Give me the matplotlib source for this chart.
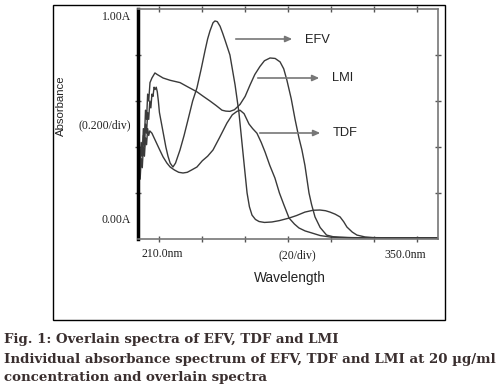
import matplotlib
matplotlib.use("Agg")
import matplotlib.pyplot as plt
from matplotlib.patches import Rectangle

# ---------------- data ----------------
efv_wl = [210, 210.5, 211, 211.5, 212, 212.5, 213, 213.5, 214, 214.5, 215, 215.5, 216, 216.5,
          217, 217.5, 218, 218.5, 219, 219.5, 220, 221, 222, 223, 224, 225, 226.3, 227.5, 229.6,
          231.5, 233.3, 235.5, 237.5, 239.5, 241.3, 242.5, 243.6, 245, 245.9, 247, 248.3, 249.5,
          250.6, 252.9, 255.3, 257.1, 258.5, 259.8, 260.9, 262, 263.2, 264.8, 266.5, 269, 272.5,
          276, 280.5, 284, 287.9, 291.7, 294.9, 297.5, 299.6, 302, 304.3, 306, 307.5, 310, 312.2,
          315.9, 320, 330, 340, 350]
efv_abs = [0.30, 0.38, 0.34, 0.42, 0.37, 0.45, 0.40, 0.50, 0.46, 0.55, 0.52, 0.60, 0.57, 0.63,
           0.62, 0.66, 0.65, 0.66, 0.64, 0.60, 0.55, 0.50, 0.45, 0.40, 0.36, 0.33, 0.313, 0.33, 0.387,
           0.45, 0.517, 0.60, 0.657, 0.74, 0.82, 0.87, 0.905, 0.94, 0.948, 0.945, 0.925, 0.895,
           0.865, 0.80, 0.67, 0.55, 0.42, 0.30, 0.20, 0.14, 0.104, 0.085, 0.076, 0.072, 0.074,
           0.08, 0.091, 0.102, 0.117, 0.125, 0.126, 0.123, 0.117, 0.108, 0.096, 0.075, 0.052, 0.03,
           0.017, 0.009, 0.006, 0.005, 0.005, 0.005]

tdf_wl = [210, 210.5, 211, 211.5, 212, 212.5, 213, 213.5, 214, 214.5, 215, 215.5, 216.5, 218,
          220, 221.7, 223.5, 225, 227, 229, 231, 233, 235, 237.5, 240, 242.5, 245, 248, 251.5,
          254, 256.2, 257.6, 259.5, 261.8, 263.5, 265.5, 267.5, 269.3, 271.5, 273.9, 276, 278.1,
          280.5, 283, 285.1, 288, 291.2, 295, 300, 310, 330, 350]
tdf_abs = [0.22, 0.30, 0.26, 0.35, 0.31, 0.40, 0.36, 0.44, 0.41, 0.48, 0.45, 0.47, 0.46, 0.43,
           0.39, 0.357, 0.33, 0.313, 0.30, 0.29, 0.287, 0.29, 0.30, 0.313, 0.34, 0.36, 0.387, 0.44,
           0.504, 0.54, 0.555, 0.56, 0.545, 0.50, 0.48, 0.46, 0.42, 0.378, 0.32, 0.265, 0.20, 0.148,
           0.091, 0.065, 0.048, 0.035, 0.026, 0.015, 0.008, 0.005, 0.004, 0.004]

lmi_wl = [210, 210.5, 211, 211.5, 212, 212.5, 213, 213.5, 214, 214.5, 215, 215.6, 216.5, 217.9,
          219, 221.7, 225, 229.6, 233.5, 237.5, 240.5, 243.6, 246.5, 249.2, 251, 252.9, 255, 257.6,
          260, 262.3, 264.5, 266.9, 269, 271.6, 274, 276.3, 278, 279.5, 281.5, 283.3, 285.1, 286.5,
          287.9, 289.8, 291, 292.6, 295, 298, 301, 304, 310, 320, 335, 350]
lmi_abs = [0.25, 0.33, 0.29, 0.40, 0.36, 0.48, 0.44, 0.56, 0.52, 0.63, 0.60, 0.68, 0.70, 0.722,
           0.715, 0.70, 0.69, 0.68, 0.66, 0.64, 0.62, 0.60, 0.58, 0.56, 0.556, 0.555, 0.562, 0.585,
           0.62, 0.67, 0.715, 0.75, 0.775, 0.787, 0.785, 0.77, 0.74, 0.69, 0.61, 0.52, 0.44, 0.387,
           0.32, 0.20, 0.15, 0.096, 0.05, 0.017, 0.01, 0.008, 0.006, 0.005, 0.005, 0.005]

x_ticks = [220, 240, 260, 280, 300, 320, 340]
y_ticks = [0.2, 0.4, 0.6, 0.8]
labels = ["EFV", "LMI", "TDF"]
caption_lines = ["Fig. 1: Overlain spectra of EFV, TDF and LMI",
                 "Individual absorbance spectrum of EFV, TDF and LMI at 20 \u00b5g/ml",
                 "concentration and overlain spectra"]

# ---------------- figure ----------------
W, H = 500, 389
fig = plt.figure(figsize=(W / 100, H / 100), dpi=100)
fig.patch.set_facecolor("white")


def fx(x):
    return x / W


def fy(y):
    return 1 - y / H


# outer frame
fig.patches.append(Rectangle((fx(53), fy(320)), fx(445) - fx(53), fy(5) - fy(320),
                             transform=fig.transFigure, fill=False, edgecolor="black",
                             linewidth=1.0))

ax = fig.add_axes([fx(138), fy(239), fx(438) - fx(138), fy(9) - fy(239)])
ax.set_xlim(210, 350)
ax.set_ylim(0, 1.0)

curve_color = "#3a3a3a"
ax.plot(efv_wl, efv_abs, color=curve_color, lw=1.0)
ax.plot(tdf_wl, tdf_abs, color=curve_color, lw=1.0)
ax.plot(lmi_wl, lmi_abs, color=curve_color, lw=1.0)

for side in ["top", "right", "bottom"]:
    ax.spines[side].set_color("#777777")
    ax.spines[side].set_linewidth(1.2)
ax.spines["left"].set_color("black")
ax.spines["left"].set_linewidth(2.5)

ax.set_xticks(x_ticks)
ax.set_yticks(y_ticks)
ax.tick_params(axis="both", which="both", direction="inout", length=5, width=1,
               colors="#555555", top=True, right=True, labelbottom=False, labelleft=False)

serif = "Liberation Serif"
sans = "Liberation Sans"
tcol = "#222222"
fs_tick = 8.5
fig.text(fx(131), fy(17), "1.00A", ha="right", va="center", family=serif, fontsize=fs_tick, color=tcol)
fig.text(fx(131), fy(125), "(0.200/div)", ha="right", va="center", family=serif, fontsize=fs_tick, color=tcol)
fig.text(fx(131), fy(220), "0.00A", ha="right", va="center", family=serif, fontsize=fs_tick, color=tcol)
fig.text(fx(162), fy(254), "210.0nm", ha="center", va="center", family=serif, fontsize=fs_tick, color=tcol)
fig.text(fx(297), fy(255), "(20/div)", ha="center", va="center", family=serif, fontsize=fs_tick, color=tcol)
fig.text(fx(405), fy(255), "350.0nm", ha="center", va="center", family=serif, fontsize=fs_tick, color=tcol)

fig.text(fx(290), fy(278), "Wavelength", ha="center", va="center", family=sans, fontsize=9.8, color=tcol)
fig.text(fx(61), fy(106), "Absorbance", ha="center", va="center", family=sans, fontsize=8.2,
         rotation=90, color=tcol)

# arrows with labels
arrow_specs = [((233, 39), (295, 39), (305, 40)),
               ((255, 78), (322, 78), (332, 78)),
               ((257, 133), (323, 133), (333, 133))]
for lab, (start, end, tpos) in zip(labels, arrow_specs):
    fig.add_artist(matplotlib.patches.FancyArrowPatch(
        (fx(start[0]), fy(start[1])), (fx(end[0]), fy(end[1])),
        transform=fig.transFigure, arrowstyle="-|>,head_length=4,head_width=1.8",
        color="#777777", linewidth=1.2, mutation_scale=1))
    fig.text(fx(tpos[0]), fy(tpos[1]), lab, ha="left", va="center", family=sans,
             fontsize=9.3, color=tcol)

cap_col = "#3a2f2f"
cap_y = [340, 360, 378]
for line, yy in zip(caption_lines, cap_y):
    fig.text(fx(4), fy(yy), line, ha="left", va="center", family="DejaVu Serif",
             fontsize=9.6, fontweight="bold", color=cap_col)

fig.savefig("out.png", dpi=100, facecolor="white")
